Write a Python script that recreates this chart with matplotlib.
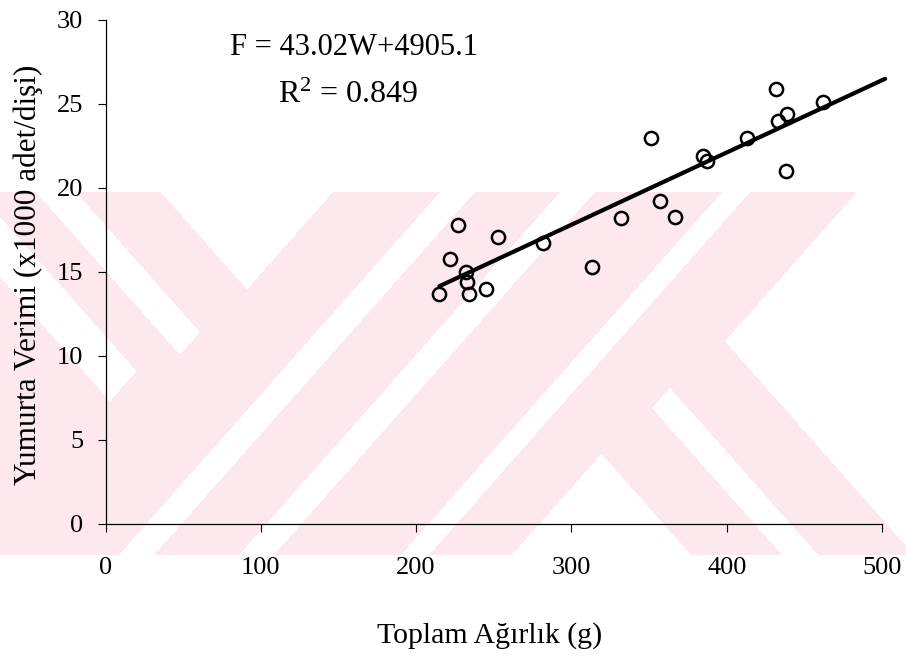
import numpy as np
import matplotlib
matplotlib.use("Agg")
import matplotlib.pyplot as plt

# ---------------- data ----------------
weight = [215, 222, 227, 232, 233, 234, 245, 253, 282, 313, 332,
          351, 357, 367, 385, 387, 413, 432, 433, 439, 438, 462]
eggs = [13.7, 15.8, 17.8, 15.0, 14.4, 13.7, 14.0, 17.1, 16.7, 15.3, 18.2,
        23.0, 19.2, 18.3, 21.9, 21.6, 23.0, 25.9, 24.0, 24.4, 21.0, 25.1]
slope = 43.02        # eggs per g
intercept = 4905.1   # eggs
line_x_end = 502
x_ticks = [0, 100, 200, 300, 400, 500]
y_ticks = [0, 5, 10, 15, 20, 25, 30]
eq_text = "F = 43.02W+4905.1"
r2_text = "R$^{2}$ = 0.849"
x_label = "Toplam Ağırlık (g)"
y_label = "Yumurta Verimi (x1000 adet/dişi)"

plt.rcParams["font.family"] = ["Liberation Serif", "DejaVu Serif"]
plt.rcParams["mathtext.fontset"] = "custom"
plt.rcParams["mathtext.rm"] = "Liberation Serif"
plt.rcParams["mathtext.it"] = "Liberation Serif"
plt.rcParams["mathtext.default"] = "rm"

W, H = 906, 662
fig = plt.figure(figsize=(W / 100, H / 100), dpi=100)

# ---------------- background watermark (decorative) ----------------
jj, ii = np.meshgrid(np.arange(W) + 0.5, np.arange(H) + 0.5)
k = 1.13
c = jj + (ii - 373) / k   # "/" direction coordinate
d = jj - (ii - 373) / k   # "\" direction coordinate
band = (ii >= 192) & (ii <= 555)
r_edge = np.where(d > 640, 697, 673)
pink = ((d <= 321) & (c <= 673)) | ((c >= 173) & (c <= 400)) | \
       ((c >= 435) & (c <= r_edge)) | ((d >= 530) & (d <= 753))
white = ((c > 400) & (c < 435)) | ((c >= 280) & (c <= 315)) | \
        ((c >= 562) & (c <= 590)) | \
        ((d >= 85) & (d <= 138) & (c <= 135)) | \
        ((d >= 196) & (d <= 236) & (c <= 164)) | \
        ((d >= 621) & (d <= 657) & (c >= 683))
mask = band & pink & ~white
img = np.ones((H, W, 3))
img[mask] = np.array([252, 232, 237]) / 255.0
bg = fig.add_axes([0, 0, 1, 1], zorder=0)
bg.imshow(img, extent=(0, W, H, 0), interpolation="nearest", aspect="auto")
bg.set_xlim(0, W)
bg.set_ylim(H, 0)
bg.axis("off")

# ---------------- main axes ----------------
left, right, top, bottom = 105.5, 882, 20, 524
ax = fig.add_axes([left / W, 1 - bottom / H, (right - left) / W, (bottom - top) / H], zorder=1)
ax.patch.set_alpha(0)

fit_x = np.array([min(weight), line_x_end])
fit_y = (slope * fit_x + intercept) / 1000.0
ax.plot(fit_x, fit_y, color="black", lw=3.0, solid_capstyle="round", clip_on=False, zorder=2)
ax.plot(weight, eggs, "o", mfc="none", mec="black", ms=9.5, mew=1.8, zorder=3, clip_on=False)

ax.set_xlim(0, 500)
ax.set_ylim(0, 30)
ax.set_xticks(x_ticks)
ax.set_yticks(y_ticks)
for s in ["top", "right"]:
    ax.spines[s].set_visible(False)
for s in ["left", "bottom"]:
    ax.spines[s].set_linewidth(0.9)
ax.tick_params(axis="both", direction="out", length=6, width=0.8, labelsize=19)
ax.tick_params(axis="x", pad=17.5)
ax.tick_params(axis="y", pad=10)

ax.text(160, 28.35, eq_text, ha="center", va="center", fontsize=22)
ax.text(156.5, 25.5, r2_text, ha="center", va="center", fontsize=23)

fig.text(490 / W, 1 - 636 / H, x_label, ha="center", va="center", fontsize=21.5)
fig.text(28 / W, 1 - 275 / H, y_label, ha="center", va="center", rotation=90, fontsize=22.5)

fig.savefig("out.png", dpi=100)
